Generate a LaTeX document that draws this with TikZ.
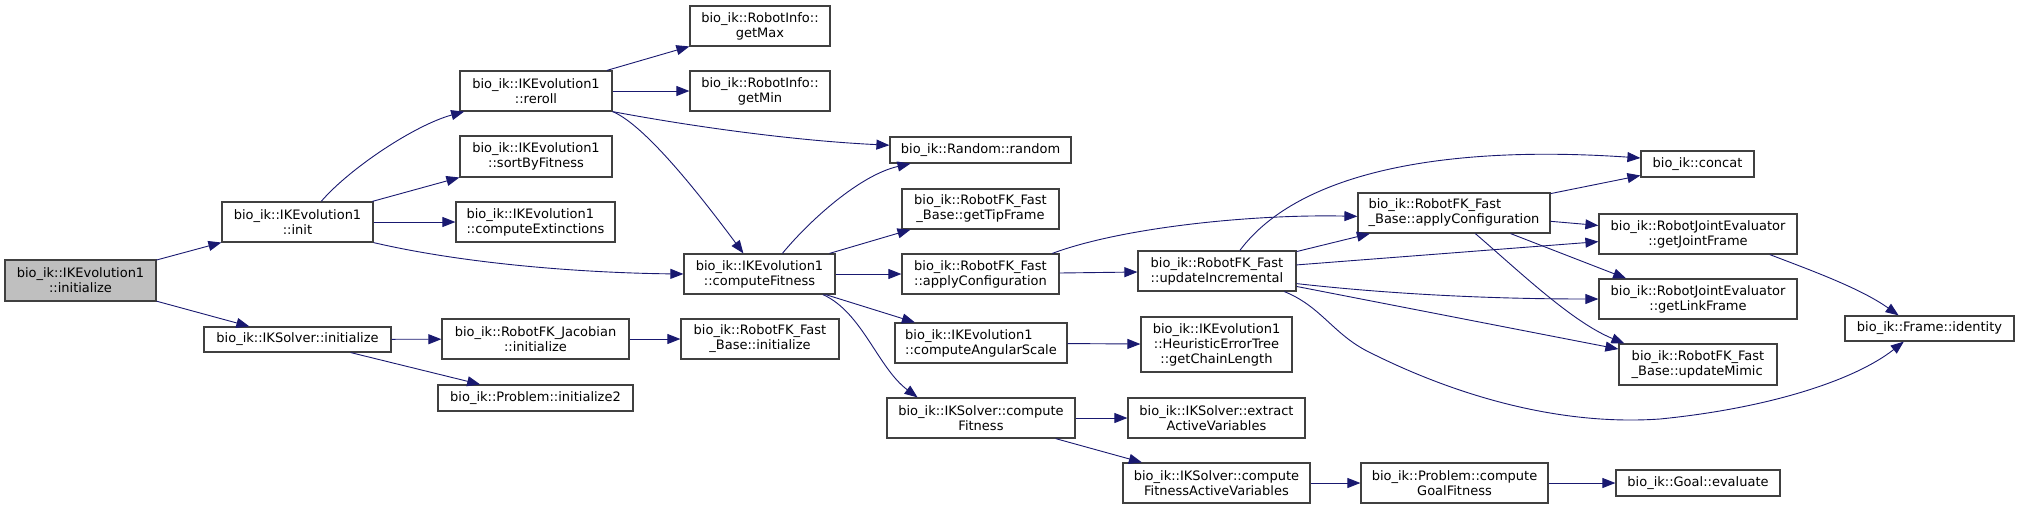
\documentclass[tikz,border=0pt]{standalone}
\usepackage{fontspec}
\setmainfont{DejaVu Sans}
\usetikzlibrary{arrows.meta}
\definecolor{edgeblue}{HTML}{191970}
\definecolor{boxgrey}{HTML}{404040}
\definecolor{rootfill}{HTML}{BFBFBF}
\tikzset{
  box/.style={draw=boxgrey, line width=1.2pt, fill=white, inner sep=0pt, align=center,
    font=\fontsize{13}{15}\selectfont, minimum height=40pt},
  box1/.style={box, minimum height=26pt},
  arr/.style={draw=edgeblue, line width=0.9pt, -{Triangle[length=13pt,width=10pt]}}
}
\begin{document}
\begin{tikzpicture}[x=1pt,y=-1pt]
\useasboundingbox (0,0) rectangle (2019,509);
% nodes
\node[box, fill=rootfill, minimum width=151pt, minimum height=41pt] (ini) at (80.5,280.5) {bio\_ik::IKEvolution1\\::initialize};
\node[box, minimum width=151pt] (init) at (297.5,222) {bio\_ik::IKEvolution1\\::init};
\node[box1, minimum width=187pt, minimum height=25pt] (iksInit) at (297.5,339.5) {bio\_ik::IKSolver::initialize};
\node[box, minimum width=152pt] (reroll) at (536,91) {bio\_ik::IKEvolution1\\::reroll};
\node[box, minimum width=152pt, minimum height=41pt] (sortF) at (536,156.5) {bio\_ik::IKEvolution1\\::sortByFitness};
\node[box, minimum width=159pt, align=left] (compExt) at (535.5,222) {bio\_ik::IKEvolution1\\::computeExtinctions};
\node[box, minimum width=187pt] (jacInit) at (535.5,339) {bio\_ik::RobotFK\_Jacobian\\::initialize};
\node[box1, minimum width=195pt] (init2) at (535.5,398) {bio\_ik::Problem::initialize2};
\node[box, minimum width=140pt] (getMax) at (760,26) {bio\_ik::RobotInfo::\\getMax};
\node[box, minimum width=140pt] (getMin) at (760,91) {bio\_ik::RobotInfo::\\getMin};
\node[box, minimum width=151pt] (compF) at (759.5,274) {bio\_ik::IKEvolution1\\::computeFitness};
\node[box, minimum width=158pt] (fbInit) at (760,339) {bio\_ik::RobotFK\_Fast\\\_Base::initialize};
\node[box1, minimum width=181pt] (rnd) at (980.5,150) {bio\_ik::Random::random};
\node[box, minimum width=157pt] (tipF) at (980.5,209) {bio\_ik::RobotFK\_Fast\\\_Base::getTipFrame};
\node[box, minimum width=157pt, align=left] (fastApply) at (980.5,274) {bio\_ik::RobotFK\_Fast\\::applyConfiguration};
\node[box, minimum width=172pt, align=left] (angScale) at (981,343) {bio\_ik::IKEvolution1\\::computeAngularScale};
\node[box, minimum width=188pt] (iksCF) at (981,418) {bio\_ik::IKSolver::compute\\Fitness};
\node[box, minimum width=158pt, align=left] (updInc) at (1217,271) {bio\_ik::RobotFK\_Fast\\::updateIncremental};
\node[box, minimum width=151pt, minimum height=55pt] (chainLen) at (1216.5,344.5) {bio\_ik::IKEvolution1\\::HeuristicErrorTree\\::getChainLength};
\node[box, minimum width=177pt] (extract) at (1216.5,418) {bio\_ik::IKSolver::extract\\ActiveVariables};
\node[box, minimum width=187pt] (cfav) at (1216.5,483) {bio\_ik::IKSolver::compute\\FitnessActiveVariables};
\node[box, minimum width=192pt, align=left] (baseApply) at (1454,213) {bio\_ik::RobotFK\_Fast\\\_Base::applyConfiguration};
\node[box, minimum width=187pt] (goalF) at (1454.5,483) {bio\_ik::Problem::compute\\GoalFitness};
\node[box1, minimum width=113pt] (concat) at (1697.5,164) {bio\_ik::concat};
\node[box, minimum width=198pt] (jointF) at (1698,234) {bio\_ik::RobotJointEvaluator\\::getJointFrame};
\node[box, minimum width=198pt] (linkF) at (1698,299) {bio\_ik::RobotJointEvaluator\\::getLinkFrame};
\node[box, minimum width=158pt, minimum height=41pt, align=left] (mimic) at (1698,364.5) {bio\_ik::RobotFK\_Fast\\\_Base::updateMimic};
\node[box1, minimum width=164pt] (evalG) at (1698,483) {bio\_ik::Goal::evaluate};
\node[box1, minimum width=169pt, minimum height=25pt] (ident) at (1929.5,328.5) {bio\_ik::Frame::identity};
% edges
\draw[arr] (ini) -- (init);
\draw[arr] (ini) -- (iksInit);
\draw[arr] (init.41) .. controls (350,168) and (415,125) .. (reroll.196);
\draw[arr] (init) -- (sortF);
\draw[arr] (init) -- (compExt);
\draw[arr] (init.south east) .. controls (470,265) and (590,273) .. (compF.west);
\draw[arr] (reroll) -- (getMax);
\draw[arr] (reroll) -- (getMin);
\draw[arr] (reroll.south east) .. controls (700,128) and (800,141) .. (rnd.177);
\draw[arr] (reroll.south east) .. controls (645,125) and (700,195) .. (compF.128);
\draw[arr] (compF.42) .. controls (810,220) and (860,175) .. (rnd.191);
\draw[arr] (compF) -- (tipF);
\draw[arr] (compF) -- (fastApply);
\draw[arr] (compF) -- (angScale);
\draw[arr] (compF.-18) .. controls (862,312) and (878,368) .. (iksCF.162);
\draw[arr] (iksInit) -- (jacInit);
\draw[arr] (iksInit) -- (init2);
\draw[arr] (jacInit) -- (fbInit);
\draw[arr] (fastApply) -- (updInc);
\draw[arr] (fastApply.16) .. controls (1120,228) and (1250,214) .. (baseApply.182);
\draw[arr] (updInc.42) .. controls (1300,170) and (1450,145) .. (concat.174);
\draw[arr] (updInc) -- (baseApply);
\draw[arr] (updInc) -- (jointF);
\draw[arr] (updInc.-9) .. controls (1380,293) and (1480,299) .. (linkF.west);
\draw[arr] (updInc) -- (mimic);
\draw[arr] (updInc.-17) .. controls (1320,306) and (1332,332) .. (1365,350)
   .. controls (1455,396) and (1560,426) .. (1660,419)
   .. controls (1770,408) and (1855,380) .. (ident.207);
\draw[arr] (baseApply) -- (concat);
\draw[arr] (baseApply) -- (jointF);
\draw[arr] (baseApply.-20) -- (linkF.164);
\draw[arr] (baseApply.-44) .. controls (1520,272) and (1572,322) .. (mimic.164);
\draw[arr] (jointF.-16) .. controls (1810,270) and (1860,288) .. (ident.157);
\draw[arr] (angScale) -- (chainLen);
\draw[arr] (iksCF) -- (extract);
\draw[arr] (iksCF) -- (cfav);
\draw[arr] (cfav) -- (goalF);
\draw[arr] (goalF) -- (evalG);
\end{tikzpicture}
\end{document}
